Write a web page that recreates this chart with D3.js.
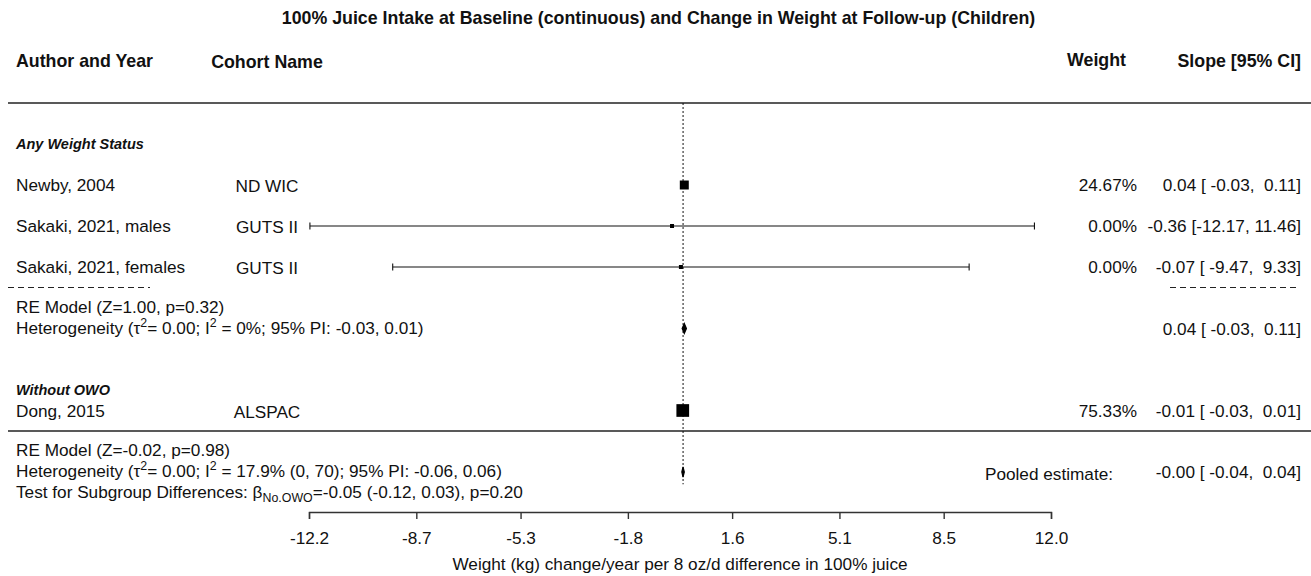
<!DOCTYPE html>
<html>
<head>
<meta charset="utf-8">
<script src="https://cdn.jsdelivr.net/npm/d3@7"></script>
<style>
  body { margin: 0; background: #fff; }
  svg text { font-family: "Liberation Sans", Arial, sans-serif; fill: #111; white-space: pre; }
</style>
</head>
<body>
<svg id="chart"></svg>
<script>
// ---- data ----
const chartTitle = "100% Juice Intake at Baseline (continuous) and Change in Weight at Follow-up (Children)";
const headers = ["Author and Year", "Cohort Name", "Weight", "Slope [95% CI]"];
const subgroups = ["Any Weight Status", "Without OWO"];
const subgroupRows = [-2, 10];

const studies = ["Newby, 2004", "Sakaki, 2021, males", "Sakaki, 2021, females", "Dong, 2015"];
const cohorts = ["ND WIC", "GUTS II", "GUTS II", "ALSPAC"];
const slopes = [0.04, -0.36, -0.07, -0.01];
const ciLow = [-0.03, -12.17, -9.47, -0.03];
const ciHigh = [0.11, 11.46, 9.33, 0.01];
const weights = [24.67, 0.00, 0.00, 75.33];
const studyRows = [0, 2, 4, 11];

const summaryEst = [0.04, -0.001];
const summaryLow = [-0.03, -0.04];
const summaryHigh = [0.11, 0.04];
const summaryRows = [7, 14];

const tickValues = [-12.2, -8.7, -5.3, -1.8, 1.6, 5.1, 8.5, 12.0];
const axisTitle = "Weight (kg) change/year per 8 oz/d difference in 100% juice";

// model statistics, written as runs of [text, "sup"|"sub"|null]
const modelText1 = [
  [["RE Model (Z=1.00, p=0.32)", null]],
  [["Heterogeneity (\u03C4", null], ["2", "sup"], ["= 0.00; I", null], ["2", "sup"], [" = 0%; 95% PI: -0.03, 0.01)", null]]
];
const modelText2 = [
  [["RE Model (Z=-0.02, p=0.98)", null]],
  [["Heterogeneity (\u03C4", null], ["2", "sup"], ["= 0.00; I", null], ["2", "sup"], [" = 17.9% (0, 70); 95% PI: -0.06, 0.06)", null]],
  [["Test for Subgroup Differences: \u03B2", null], ["No.OWO", "sub"], ["=-0.05 (-0.12, 0.03), p=0.20", null]]
];
const pooledLabel = "Pooled estimate:";

// ---- layout ----
const W = 1311, H = 576;
const fsBody = 17.2, fsHead = 17.8, fsTitle = 17.8, fsGroup = 14.5;
const leftX = 16, cohortX = 267, weightHeadRight = 1126, weightRight = 1137, annoRight = 1301;

const svg = d3.select("#chart").attr("width", W).attr("height", H);

const x = d3.scaleLinear().domain([-12.2, 12.0]).range([309, 1051]);
// one unit = one text row of the forest plot
const y = d3.scaleLinear().domain([0, 1]).range([185, 205.5]);

function label(sel, xPos, yCenter, str, o = {}) {
  const fs = o.size || fsBody;
  return sel.append("text")
    .attr("xml:space", "preserve")
    .attr("x", xPos)
    .attr("y", yCenter + 0.36 * fs)
    .attr("font-size", fs)
    .attr("font-weight", o.weight || "normal")
    .attr("font-style", o.style || "normal")
    .attr("text-anchor", o.anchor || "start")
    .text(str);
}

function richLabel(sel, xPos, yCenter, runs, fs) {
  const t = sel.append("text")
    .attr("xml:space", "preserve")
    .attr("x", xPos).attr("y", yCenter + 0.36 * fs)
    .attr("font-size", fs);
  let shift = 0;
  runs.forEach(([s, kind]) => {
    const target = kind === "sup" ? -7.5 : kind === "sub" ? 4 : 0;
    t.append("tspan")
      .attr("dy", target - shift)
      .attr("font-size", kind ? fs * 0.72 : fs)
      .text(s);
    shift = target;
  });
  return t;
}

const fmt = (v, w) => v.toFixed(2).padStart(w);
const ciText = (e, l, h) => `${fmt(e, 5)} [${fmt(l, 6)}, ${fmt(h, 5)}]`;

// title
label(svg, W / 2 + 3, 18, chartTitle, { size: fsTitle, weight: "bold", anchor: "middle" });

// column headers
label(svg, leftX, y(-6) - 1, headers[0], { size: fsHead, weight: "bold" });
label(svg, cohortX, y(-6), headers[1], { size: fsHead, weight: "bold", anchor: "middle" });
label(svg, weightHeadRight, y(-6) - 2, headers[2], { size: fsHead, weight: "bold", anchor: "end" });
label(svg, annoRight, y(-6) - 1, headers[3], { size: fsHead, weight: "bold", anchor: "end" });

// horizontal rules
svg.append("line").attr("x1", 8).attr("x2", W).attr("y1", y(-4)).attr("y2", y(-4))
  .attr("stroke", "#222").attr("stroke-width", 1.6);
svg.append("line").attr("x1", 8).attr("x2", W).attr("y1", y(12)).attr("y2", y(12))
  .attr("stroke", "#222").attr("stroke-width", 1.6);

// dashed separators below the first subgroup
[[8, 150], [1170, 1300]].forEach(([a, b]) => {
  svg.append("line").attr("x1", a).attr("x2", b).attr("y1", y(5)).attr("y2", y(5))
    .attr("stroke", "#222").attr("stroke-width", 1).attr("stroke-dasharray", "6,4");
});

// reference line at zero
svg.append("line")
  .attr("x1", x(0)).attr("x2", x(0))
  .attr("y1", y(-4)).attr("y2", y(14.6))
  .attr("stroke", "#111").attr("stroke-width", 1).attr("stroke-dasharray", "2,2");

// subgroup headings
subgroups.forEach((s, i) => {
  label(svg, leftX, y(subgroupRows[i]), s, { size: fsGroup, weight: "bold", style: "italic" });
});

// study rows
const size = d3.scaleSqrt().domain([0, d3.max(weights)]).range([4, 12.7]);
const rows = svg.append("g").selectAll("g").data(studies).join("g");
rows.each(function (d, i) {
  const g = d3.select(this);
  const cy = y(studyRows[i]);
  label(g, leftX, cy, d);
  label(g, cohortX, cy + 1, cohorts[i], { anchor: "middle" });
  // confidence interval
  g.append("line").attr("x1", x(ciLow[i])).attr("x2", x(ciHigh[i]))
    .attr("y1", cy).attr("y2", cy).attr("stroke", "#111").attr("stroke-width", 1.1);
  [ciLow[i], ciHigh[i]].forEach(v => {
    g.append("line").attr("x1", x(v)).attr("x2", x(v))
      .attr("y1", cy - 3.5).attr("y2", cy + 3.5).attr("stroke", "#111").attr("stroke-width", 1.1);
  });
  const s = size(weights[i]);
  g.append("rect").attr("x", x(slopes[i]) - s / 2).attr("y", cy - s / 2)
    .attr("width", s).attr("height", s).attr("fill", "#000");
  // weight and slope with CI
  label(g, weightRight, cy, weights[i].toFixed(2) + "%", { anchor: "end" });
  label(g, annoRight, cy, ciText(slopes[i], ciLow[i], ciHigh[i]), { anchor: "end" });
});

// summary diamonds
summaryEst.forEach((e, i) => {
  const cy = y(summaryRows[i]);
  const pts = [[x(summaryLow[i]), cy], [x(e), cy - 5], [x(summaryHigh[i]), cy], [x(e), cy + 5]];
  svg.append("polygon").attr("points", pts.map(p => p.join(",")).join(" "))
    .attr("fill", "#000").attr("stroke", "#000").attr("stroke-width", 1.2);
  label(svg, annoRight, cy, ciText(e, summaryLow[i], summaryHigh[i]), { anchor: "end" });
});

// model statistics text
modelText1.forEach((runs, j) => richLabel(svg, leftX, y(5.93 + j * 1.05), runs, fsBody));
modelText2.forEach((runs, j) => richLabel(svg, leftX, y(12.93 + j * 1.03), runs, fsBody));
label(svg, 1113, y(14) + 2, pooledLabel, { anchor: "end" });

// x axis
const axis = svg.append("g")
  .attr("transform", `translate(0,${y(15.95)})`)
  .call(d3.axisBottom(x).tickValues(tickValues).tickFormat(d3.format(".1f"))
    .tickSize(7).tickPadding(13));
axis.select(".domain").attr("stroke", "#333").attr("stroke-width", 1.4);
axis.selectAll(".tick line").attr("stroke", "#333").attr("stroke-width", 1.4);
axis.selectAll(".tick text")
  .attr("font-size", fsBody)
  .attr("font-family", "\"Liberation Sans\", Arial, sans-serif")
  .attr("fill", "#111")
  .text(d => d.toFixed(1));

label(svg, (x.range()[0] + x.range()[1]) / 2, y(18.5), axisTitle, { anchor: "middle" });
</script>
</body>
</html>
